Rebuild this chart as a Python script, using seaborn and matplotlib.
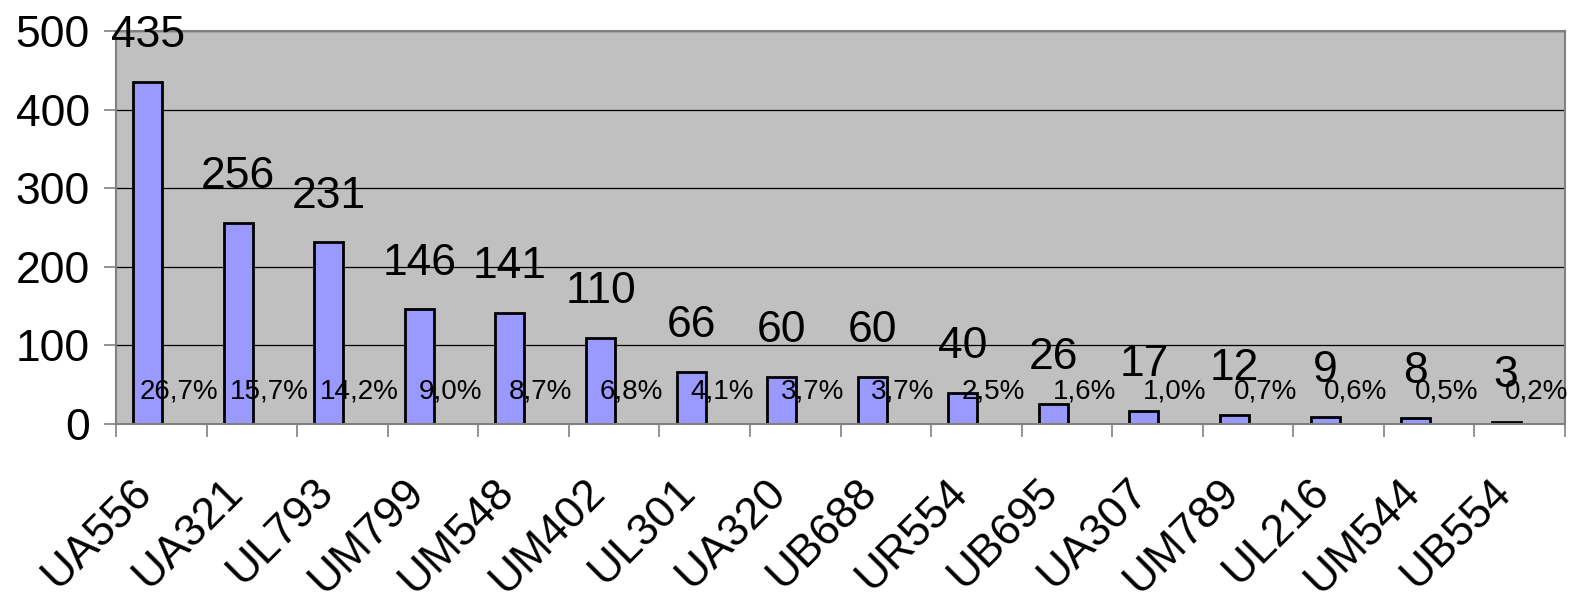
import matplotlib
matplotlib.use("Agg")
import matplotlib.pyplot as plt
import matplotlib.transforms as mtransforms
import seaborn as sns
import pandas as pd
import numpy as np

# data
codes = ["UA556", "UA321", "UL793", "UM799", "UM548", "UM402", "UL301",
         "UA320", "UB688", "UR554", "UB695", "UA307", "UM789", "UL216",
         "UM544", "UB554"]
counts = [435, 256, 231, 146, 141, 110, 66, 60, 60, 40, 26, 17, 12, 9, 8, 3]
shares = [26.7, 15.7, 14.2, 9.0, 8.7, 6.8, 4.1, 3.7, 3.7, 2.5, 1.6, 1.0,
          0.7, 0.6, 0.5, 0.2]
y_ticks = [0, 100, 200, 300, 400, 500]

df = pd.DataFrame({"code": codes, "count": counts, "share": shares})

sns.set_style("white")
plt.rcParams["font.family"] = ["Liberation Sans", "DejaVu Sans"]
plt.rcParams["text.color"] = "black"
plt.rcParams["xtick.labelcolor"] = "black"
plt.rcParams["ytick.labelcolor"] = "black"

fig = plt.figure(figsize=(15.85, 6.01), dpi=100)
ax = fig.add_axes([0.0732, 0.2945, 0.9142, 0.6539])
ax.set_facecolor("#C0C0C0")

sns.barplot(data=df, x="code", y="count", color="#9999FF", width=0.32,
            edgecolor="black", linewidth=2, saturation=1, ax=ax)

# the count bar sits in the left half of each category (Excel style)
shift = 0.15
for p in ax.patches:
    p.set_x(p.get_x() - shift)

ax.set_xlim(-0.5, len(codes) - 0.5)
ax.set_ylim(0, 500)
ax.set_yticks(y_ticks)
ax.yaxis.grid(True, color="black", linewidth=0.9)
ax.set_axisbelow(True)
ax.set_xlabel("")
ax.set_ylabel("")

for s in ax.spines.values():
    s.set_color("#808080")
    s.set_linewidth(1.5)

# count labels above bars, share labels near the bottom
for i, (c, sh) in enumerate(zip(counts, shares)):
    ax.annotate(str(c), (i - shift, c), xytext=(0, 25),
                textcoords="offset points", ha="center", va="baseline",
                fontsize=32, color="black")
    ax.text(i + 0.19, 41, f"{sh:.1f}%".replace(".", ","), ha="center",
            va="center", fontsize=20, color="black")

ax.tick_params(axis="y", labelsize=32, length=9, width=1.2,
               color="#808080", pad=10, left=True)
ax.set_xticks(np.arange(len(codes)))
ax.set_xticklabels(codes, rotation=45, ha="right", va="top",
                   rotation_mode="anchor", fontsize=32)
ax.tick_params(axis="x", which="major", length=0, pad=34)
ax.set_xticks(np.arange(len(codes) + 1) - 0.5, minor=True)
ax.tick_params(axis="x", which="minor", length=9, width=1.2,
               color="#808080", bottom=True)
offset = mtransforms.ScaledTranslation(-30 / 100, 0, fig.dpi_scale_trans)
for lab in ax.get_xticklabels():
    lab.set_transform(lab.get_transform() + offset)

fig.savefig("out.png", dpi=100)
